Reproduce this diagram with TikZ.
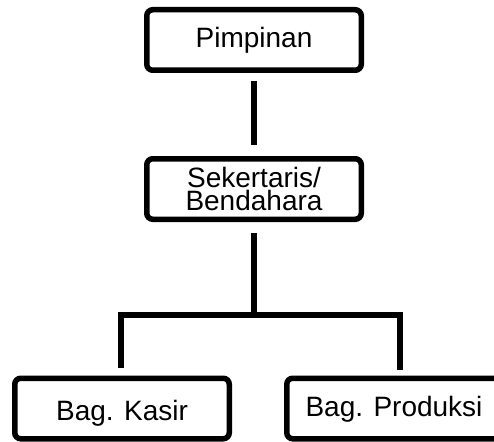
\documentclass[tikz,border=0pt]{standalone}
\usepackage{fontspec}
\setmainfont{Liberation Sans}
\begin{document}
\begin{tikzpicture}[x=1pt,y=-1pt,
  box/.style={draw, line width=5.5pt, rounded corners=6pt, minimum width=214.5pt,
    minimum height=60.5pt, inner sep=0pt, align=center,
    font=\fontsize{28}{23.5}\selectfont},
  conn/.style={line width=5.5pt}]
\useasboundingbox (0,0) rectangle (494,441);
\node[box] (pim) at (254,40) {Pimpinan};
\node[box] (sek) at (254,189) {Sekertaris/\\Bendahara};
\node[box, text height=20pt, text depth=6pt] (kas) at (122,408.5) {\raisebox{-5pt}{Bag. Kasir}};
\node[box, text height=20pt, text depth=6pt] (pro) at (394,408.5) {\raisebox{-0.5pt}{Bag. Produksi}};
\coordinate (j) at (254,315);
\coordinate (jl) at (121,315);
\coordinate (jr) at (400,315);
\coordinate (kr) at (400,370);
\draw[conn, shorten <=7.75pt, shorten >=10.75pt] (pim.south) -- (sek.north);
\draw[conn, shorten <=10.75pt] (sek.south) -- (j);
\draw[conn] (jl |- kas.north) ++(0,-7.75) -- (jl) -- (jr) -- (kr);
\end{tikzpicture}
\end{document}
